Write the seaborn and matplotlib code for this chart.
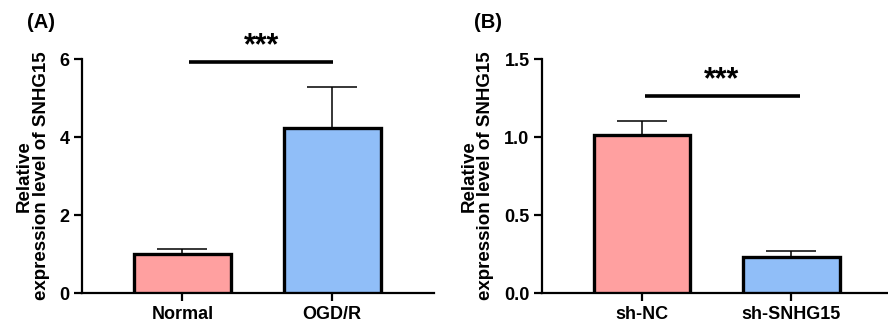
import numpy as np
import matplotlib
matplotlib.use("Agg")
import matplotlib.pyplot as plt
import seaborn as sns

# panel A
groups_a = ["Normal", "OGD/R"]
means_a = [1.0, 4.22]
sem_a = [0.12, 1.06]
# panel B
groups_b = ["sh-NC", "sh-SNHG15"]
means_b = [1.01, 0.23]
sem_b = [0.09, 0.04]

colors = ["#FFA0A0", "#90BEF8"]

sns.set_style("ticks", {"axes.edgecolor": "black", "text.color": "black",
                        "axes.labelcolor": "black", "xtick.color": "black",
                        "ytick.color": "black"})
plt.rcParams["font.family"] = ["Liberation Sans", "DejaVu Sans"]
plt.rcParams["font.weight"] = "bold"

fig = plt.figure(figsize=(8.88, 3.26), dpi=100)
ax_a = fig.add_axes([0.0923, 0.101, 0.3964, 0.718])
ax_b = fig.add_axes([0.6104, 0.101, 0.3885, 0.718])


def draw_panel(ax, groups, means, errs, ymax, yticks, ticklabels, sig_y, sig_span, xmax):
    sns.barplot(x=groups, y=means, hue=groups, palette=colors, legend=False,
                edgecolor="black", linewidth=2.4, width=0.647, errorbar=None,
                saturation=1, ax=ax, zorder=3)
    ax.errorbar(range(len(groups)), means, yerr=[[0] * len(groups), errs],
                fmt="none", ecolor="black", elinewidth=1.1, capsize=18,
                capthick=1.1, zorder=2)
    ax.set_xlim(-0.67, xmax)
    ax.set_ylim(0, ymax)
    ax.set_yticks(yticks)
    ax.set_yticklabels(ticklabels)
    sns.despine(ax=ax)
    for s in ["left", "bottom"]:
        ax.spines[s].set_linewidth(1.6)
    ax.tick_params(axis="both", width=1.6, length=6, labelsize=13, pad=3,
                   colors="black")
    for t in ax.get_xticklabels() + ax.get_yticklabels():
        t.set_fontweight("bold")
    ax.set_xlabel("")
    ax.set_ylabel("Relative\nexpression level of SNHG15", fontsize=13.5,
                  fontweight="bold", labelpad=7, linespacing=1.0)
    ax.plot(sig_span, [sig_y, sig_y], color="black", lw=2.6,
            clip_on=False, solid_capstyle="butt")
    ax.text(0.53, sig_y + ymax * 0.005, "***", ha="center", va="bottom",
            fontsize=22, fontweight="bold")


draw_panel(ax_a, groups_a, means_a, sem_a, 6, [0, 2, 4, 6],
           ["0", "2", "4", "6"], 5.92, [0.047, 1.007], 1.68)
draw_panel(ax_b, groups_b, means_b, sem_b, 1.5, [0, 0.5, 1.0, 1.5],
           ["0.0", "0.5", "1.0", "1.5"], 1.263, [0.017, 1.057], 1.64)

fig.text(0.046, 0.93, "(A)", fontsize=14.5, fontweight="bold", ha="center", va="center")
fig.text(0.55, 0.93, "(B)", fontsize=14.5, fontweight="bold", ha="center", va="center")

fig.savefig("out.png", dpi=100)
